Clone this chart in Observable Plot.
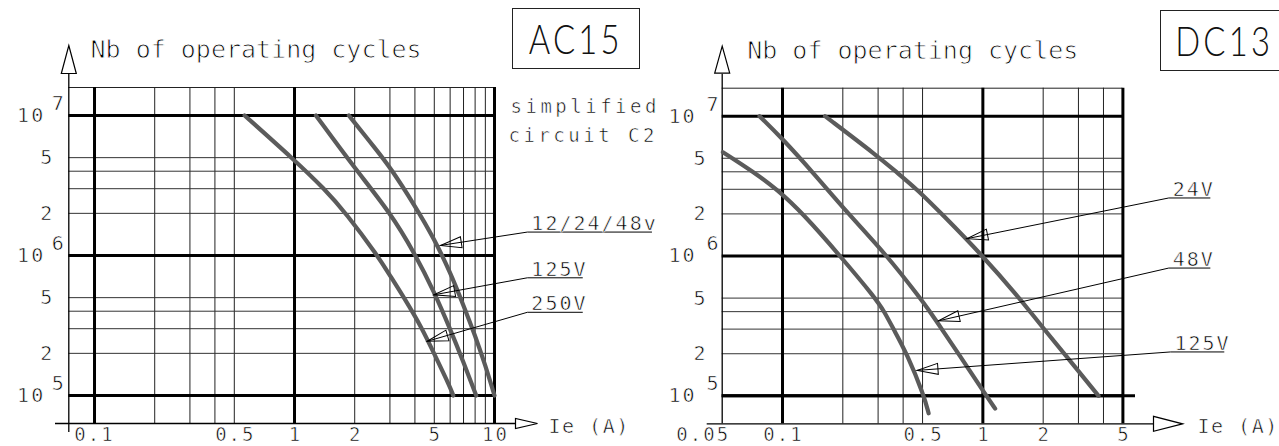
<!DOCTYPE html>
<html>
<head>
<meta charset="utf-8">
<script src="https://cdn.jsdelivr.net/npm/d3@7"></script>
<script src="https://cdn.jsdelivr.net/npm/@observablehq/plot@0.6"></script>
<style>
  html, body { margin: 0; padding: 0; background: #fff; }
  #wrap { position: relative; width: 1279px; height: 446px; overflow: hidden; background: #fff; }
  #wrap svg { position: absolute; left: 0; top: 0; }
  .box { position: absolute; box-sizing: border-box; border: 1.3px solid #222;
         display: flex; align-items: center; justify-content: center; color: #111; }
  .box span { display: inline-block; font-family: "Lato", "Open Sans", sans-serif; font-weight: 300;
              font-size: 41px; letter-spacing: 4px; transform: scaleX(0.8); line-height: 1; }
</style>
</head>
<body>
<div id="wrap">
  <div class="box" style="left:512px;top:8px;width:128px;height:61px;"><span>AC15</span></div>
  <div class="box" style="left:1160px;top:10px;width:128px;height:61px;"><span>DC13</span></div>
</div>
<script>
// ---------------- data (Ie in A, number of operating cycles) ----------------
// AC15 panel curves
const ac_12_24_48v = [[1.87,1e7],[2.59,5.6e6],[3,4.28e6],[4,2.27e6],[5,1.31e6],[6,7.6e5],[7,4.4e5],[8,2.68e5],[9,1.64e5],[10,1e5]];
const ac_125v      = [[1.28,1e7],[2,4.2e6],[3,2.04e6],[4,1.03e6],[5,5.47e5],[6,2.99e5],[7,1.73e5],[8.1,1e5]];
const ac_250v      = [[0.563,1e7],[1,4.8e6],[1.41,3e6],[1.81,2e6],[2.6,1e6],[3,7.2e5],[3.53,5e5],[4.36,3e5],[4.98,2e5],[6,1.15e5],[6.22,1e5]];
// DC13 panel curves
const dc_24v  = [[0.163,1e7],[0.3,5.15e6],[0.369,4e6],[0.469,3e6],[0.624,2e6],[1,1e6],[1.52,5e5],[1.72,4e5],[2.02,3e5],[2.55,2e5],[3.78,1e5]];
const dc_48v  = [[0.0768,1e7],[0.1,6.89e6],[0.141,4e6],[0.213,2e6],[0.334,1e6],[0.486,5e5],[0.544,4e5],[0.624,3e5],[0.756,2e5],[1.04,1e5],[1.152,8.1e4]];
const dc_125v = [[0.0504,5.53e6],[0.0716,4e6],[0.0937,3e6],[0.127,2e6],[0.194,1e6],[0.291,5e5],[0.322,4e5],[0.358,3e5],[0.418,2e5],[0.509,1e5],[0.536,7.5e4]];

// grid / ticks
const acGridThinX  = [0.2,0.3,0.4,0.5,2,3,4,5,6,7,8,9];
const acGridThickX = [0.1,1,10];
const dcGridThinX  = [0.2,0.3,0.4,0.5,2,3,4];
const dcGridThickX = [0.1,1,5];
const gridThinY    = [2e5,3e5,4e5,5e5,2e6,3e6,4e6,5e6];
const gridThickY   = [1e5,1e6,1e7];
const mantissaY    = [5e6,2e6,5e5,2e5];
const acTickX      = [0.1,0.5,1,2,5,10];
const acTickXLabel = ["0.1","0.5","1","2","5","10"];
const dcTickX      = [0.05,0.1,0.5,1,2,5];
const dcTickXLabel = ["0.05","0.1","0.5","1","2","5"];

// annotations: label, arrow tip (on curve), leader knee, underline end
const acAnnLabel  = ["12/24/48v","125V","250V"];
const acAnnTip    = [[5.37,1.18e6],[4.98,5.24e5],[4.61,2.44e5]];
const acAnnKnee   = [[14.6,1.47e6],[14.6,6.93e5],[14.6,3.93e5]];
const acAnnEndX   = [61,27.5,27.5];
const dcAnnLabel  = ["24V","48V","125V"];
const dcAnnTip    = [[0.832,1.33e6],[0.601,3.44e5],[0.469,1.52e5]];
const dcAnnKnee   = [[8.47,2.6e6],[8.47,8.2e5],[8.64,2.06e5]];
const dcAnnEndX   = [13.6,13.6,15.96];

// ---------------- drawing ----------------
const W = 1279, H = 446;
const FONT = "'DejaVu Sans Mono', 'Liberation Mono', monospace";
const CURVE = "#5b5b5b";
const SPACING = { "Nb of operating cycles": 0, "simplified": 3.5, "circuit C2": 3.5, "Ie (A)": 1.5 };

function tri(len, hw) {
  return { draw(ctx) { ctx.moveTo(0, 0); ctx.lineTo(len, -hw); ctx.lineTo(len, hw); ctx.closePath(); } };
}

function panel(o) {
  const xOpt = { type: "log", domain: o.xDomain, range: [o.mL, W - o.mR] };
  const yOpt = { type: "log", domain: o.yDomain, range: [H - o.mB, o.mT] };
  const xs = Plot.scale({ x: xOpt }), ys = Plot.scale({ y: yOpt });
  const rows = o.curves.flatMap(([name, pts]) => pts.map(([A, N]) => ({ name, A, N })));
  const ann = o.annLabel.map((label, i) => {
    const [tx, ty] = o.annTip[i], [kx, ky] = o.annKnee[i];
    const angle = Math.atan2(ys.apply(ky) - ys.apply(ty), xs.apply(kx) - xs.apply(tx)) * 180 / Math.PI;
    return { label, tx, ty, kx, ky, ex: o.annEndX[i], angle };
  });
  const leader = ann.flatMap(a => [
    { label: a.label, A: a.tx, N: a.ty },
    { label: a.label, A: a.kx, N: a.ky },
    { label: a.label, A: a.ex, N: a.ky }
  ]);
  const ticks = o.tickX.map((v, i) => ({ v, t: o.tickXLabel[i] }));
  const [x0, x1] = o.xDomain, [y0, y1] = o.yDomain;
  const corner = [{ x0, x1, y0, y1 }];

  const svg = Plot.plot({
    width: W, height: H,
    marginLeft: o.mL, marginRight: o.mR, marginTop: o.mT, marginBottom: o.mB,
    x: { ...xOpt, axis: null },
    y: { ...yOpt, axis: null },
    style: { fontFamily: FONT, background: "transparent", overflow: "visible", color: "black" },
    marks: [
      // grid
      Plot.ruleX(o.thinX, { stroke: "#222", strokeWidth: 1 }),
      Plot.ruleY(gridThinY, { stroke: "#333", strokeWidth: 1 }),
      Plot.ruleY([y1], { stroke: "#222", strokeWidth: 1 }),
      Plot.ruleX(o.thickX, { stroke: "black", strokeWidth: 3 }),
      Plot.ruleY(gridThickY, { stroke: "black", strokeWidth: 3 }),
      o.extraRule,
      // axes
      Plot.ruleY([y0], { stroke: "black", strokeWidth: 1.3, insetLeft: -o.axXLeft, insetRight: -o.axXRight }),
      Plot.ruleX([x0], { stroke: "black", strokeWidth: 1.3, insetTop: -14, insetBottom: -o.axYBottom }),
      Plot.dot(corner, { x: "x0", y: "y1", dy: -o.arrowY.off, rotate: 90, symbol: tri(o.arrowY.len, o.arrowY.hw), fill: "white", stroke: "black", strokeWidth: 1.2 }),
      Plot.dot(corner, { x: "x1", y: "y0", dx: o.arrowX.off, rotate: 180, symbol: tri(o.arrowX.len, o.arrowX.hw), fill: "white", stroke: "black", strokeWidth: 1.2 }),
      // curves
      Plot.line(rows, { x: "A", y: "N", z: "name", curve: "basis", stroke: CURVE, strokeWidth: 4.2 }),
      // annotations
      Plot.line(leader, { x: "A", y: "N", z: "label", stroke: "black", strokeWidth: 1 }),
      Plot.dot(ann, { x: "tx", y: "ty", rotate: "angle", symbol: tri(21, 5.5), fill: "none", stroke: "black", strokeWidth: 1 }),
      Plot.text(ann, { x: "kx", y: "ky", text: "label", textAnchor: "start", lineAnchor: "bottom", dx: 4, dy: -2, fontSize: 20 }),
      // y tick labels
      Plot.text(gridThickY, { y: d => d, frameAnchor: "left", textAnchor: "end", text: () => "10", dx: o.yl.ten, fontSize: 20 }),
      Plot.text(gridThickY, { y: d => d, frameAnchor: "left", textAnchor: "end", text: d => String(Math.round(Math.log10(d))), dx: o.yl.exp, dy: -12, fontSize: 20 }),
      Plot.text(mantissaY, { y: d => d, frameAnchor: "left", textAnchor: "end", text: d => String(Math.round(d / 10 ** Math.floor(Math.log10(d)))), dx: o.yl.man, fontSize: 20 }),
      // x tick labels
      Plot.text(ticks.slice(0, 1), { x: "v", frameAnchor: "bottom", lineAnchor: "top", text: "t", dy: 4, dx: o.firstTickDx, fontSize: 19 }),
      Plot.text(ticks.slice(1), { x: "v", frameAnchor: "bottom", lineAnchor: "top", text: "t", dy: 4, dx: 1, fontSize: 19 }),
      Plot.text(["Ie (A)"], { frameAnchor: "bottom-right", textAnchor: "start", lineAnchor: "middle", dx: o.ieDx, dy: 3, fontSize: 20 }),
      // axis title
      Plot.text(["Nb of operating cycles"], { frameAnchor: "top-left", textAnchor: "start", lineAnchor: "bottom", dx: o.titleDx, dy: o.titleDy, fontSize: 25 }),
      ...(o.extraText || [])
    ]
  });
  // CAD-like lettering: spaced, thin strokes
  d3.select(svg).selectAll("text").each(function () {
    const t = this.textContent;
    const ls = t in SPACING ? SPACING[t] : 2;
    d3.select(this)
      .attr("letter-spacing", ls + "px")
      .attr("stroke", "white")
      .attr("stroke-width", t === "Nb of operating cycles" ? 0.9 : 0.6)
      .attr("paint-order", "fill")
      .style("paint-order", "fill");
  });
  return svg;
}

const left = panel({
  xDomain: [0.07438, 10], yDomain: [10 ** 4.8, 10 ** 7.2],
  mL: 68.3, mR: W - 494, mT: 87, mB: H - 423,
  curves: [["12/24/48v", ac_12_24_48v], ["125V", ac_125v], ["250V", ac_250v]],
  thinX: acGridThinX, thickX: acGridThickX,
  tickX: acTickX, tickXLabel: acTickXLabel, firstTickDx: 0,
  annLabel: acAnnLabel, annTip: acAnnTip, annKnee: acAnnKnee, annEndX: acAnnEndX,
  axXLeft: 13.3, axXRight: 21, axYBottom: 9,
  arrowY: { off: 42, len: 28, hw: 7.5 }, arrowX: { off: 43, len: 22, hw: 5 },
  yl: { ten: -23.6, exp: -3, man: -14.6 },
  ieDx: 54, titleDx: 21.7, titleDy: -30,
  extraRule: null,
  extraText: [
    Plot.text(["simplified"], { frameAnchor: "top-right", textAnchor: "start", lineAnchor: "bottom", dx: 16, dy: 25, fontSize: 19 }),
    Plot.text(["circuit C2"], { frameAnchor: "top-right", textAnchor: "start", lineAnchor: "bottom", dx: 14, dy: 54.7, fontSize: 19 })
  ]
});

const right = panel({
  xDomain: [0.05, 5], yDomain: [10 ** 4.8, 10 ** 7.2],
  mL: 721.7, mR: W - 1122.4, mT: 87.7, mB: H - 423.3,
  curves: [["24V", dc_24v], ["48V", dc_48v], ["125V", dc_125v]],
  thinX: dcGridThinX, thickX: dcGridThickX,
  tickX: dcTickX, tickXLabel: dcTickXLabel, firstTickDx: -19,
  annLabel: dcAnnLabel, annTip: dcAnnTip, annKnee: dcAnnKnee, annEndX: dcAnnEndX,
  axXLeft: 15, axXRight: 30.6, axYBottom: 0,
  arrowY: { off: 42, len: 27, hw: 7.5 }, arrowX: { off: 59.6, len: 29, hw: 7.5 },
  yl: { ten: -25.7, exp: -1.7, man: -14.7 },
  ieDx: 74.6, titleDx: 25, titleDy: -29.4,
  extraRule: Plot.ruleY([1e5], { stroke: "black", strokeWidth: 3, insetRight: -12.6 }),
  extraText: []
});

const wrap = document.getElementById("wrap");
wrap.insertBefore(right, wrap.firstChild);
wrap.insertBefore(left, wrap.firstChild);
</script>
</body>
</html>
